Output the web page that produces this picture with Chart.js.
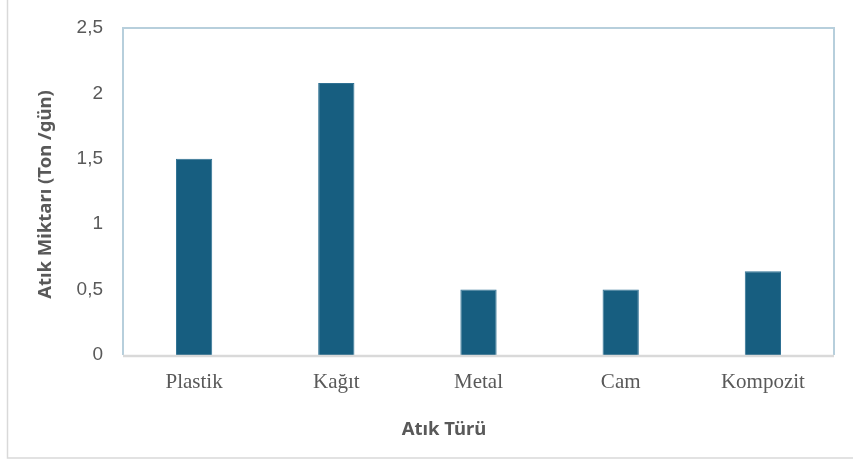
<!DOCTYPE html>
<html>
<head>
<meta charset="utf-8">
<script src="https://cdn.jsdelivr.net/npm/chart.js@4"></script>
<style>
  html, body { margin: 0; padding: 0; background: #fff; }
  #wrap { position: relative; width: 853px; height: 461px; }
</style>
</head>
<body>
<div id="wrap"><canvas id="wasteChart" width="853" height="461"></canvas></div>
<script>
const categories = ["Plastik", "Kağıt", "Metal", "Cam", "Kompozit"];
const amounts = [1.5, 2.08, 0.5, 0.5, 0.64];
const yTicks = [0, 0.5, 1, 1.5, 2, 2.5];
const yTitle = "Atık Miktarı (Ton /gün)";
const xTitle = "Atık Türü";

const titleFont = 'bold 18.5px "Noto Sans", sans-serif';

// frame around the whole chart, plot area border and axis titles
const framePlugin = {
    id: 'frame',
    beforeDraw(chart) {
        const ctx = chart.ctx;
        ctx.save();
        ctx.strokeStyle = '#d9d9d9';
        ctx.lineWidth = 1.5;
        ctx.strokeRect(7.5, -5, 900, 463);
        ctx.restore();
    },
    afterDatasetsDraw(chart) {
        const ctx = chart.ctx;
        const a = chart.chartArea;
        ctx.save();
        ctx.strokeStyle = '#b7cfdc';
        ctx.lineWidth = 2;
        ctx.beginPath();
        ctx.moveTo(a.left, a.bottom);
        ctx.lineTo(a.left, a.top);
        ctx.lineTo(a.right, a.top);
        ctx.lineTo(a.right, a.bottom);
        ctx.stroke();
        ctx.strokeStyle = '#d9d9d9';
        ctx.lineWidth = 2.5;
        ctx.beginPath();
        ctx.moveTo(a.left, a.bottom + 1);
        ctx.lineTo(a.right, a.bottom + 1);
        ctx.stroke();

        // axis titles
        ctx.fillStyle = '#595959';
        ctx.font = titleFont;
        ctx.textAlign = 'center';
        ctx.textBaseline = 'middle';
        ctx.fillText(xTitle, 444, 430);
        ctx.translate(46, (a.top + a.bottom) / 2 + 3);
        ctx.rotate(-Math.PI / 2);
        ctx.fillText(yTitle, 0, 0);
        ctx.restore();
    }
};

new Chart(document.getElementById('wasteChart').getContext('2d'), {
    type: 'bar',
    data: {
        labels: categories,
        datasets: [{
            data: amounts,
            backgroundColor: '#175e80',
            borderColor: '#2f7193',
            borderWidth: 1,
            barPercentage: 0.255,
            categoryPercentage: 1
        }]
    },
    options: {
        responsive: false,
        animation: false,
        layout: { padding: { left: 8, right: 19, top: 28, bottom: 10 } },
        plugins: { legend: { display: false }, tooltip: { enabled: false } },
        scales: {
            x: {
                grid: { display: false },
                border: { display: false },
                ticks: {
                    color: '#595959',
                    padding: 7,
                    font: { family: '"Liberation Serif", "Times New Roman", serif', size: 21 }
                },
                afterFit(scale) { scale.height = 96; }
            },
            y: {
                min: 0,
                max: 2.5,
                grid: { display: false },
                border: { display: false },
                afterBuildTicks(scale) { scale.ticks = yTicks.map(v => ({ value: v })); },
                ticks: {
                    color: '#595959',
                    padding: 12,
                    font: { family: '"Liberation Sans", Arial, sans-serif', size: 19 },
                    callback: v => String(v).replace('.', ',')
                },
                afterFit(scale) { scale.width = 115; }
            }
        }
    },
    plugins: [framePlugin]
});
</script>
</body>
</html>
